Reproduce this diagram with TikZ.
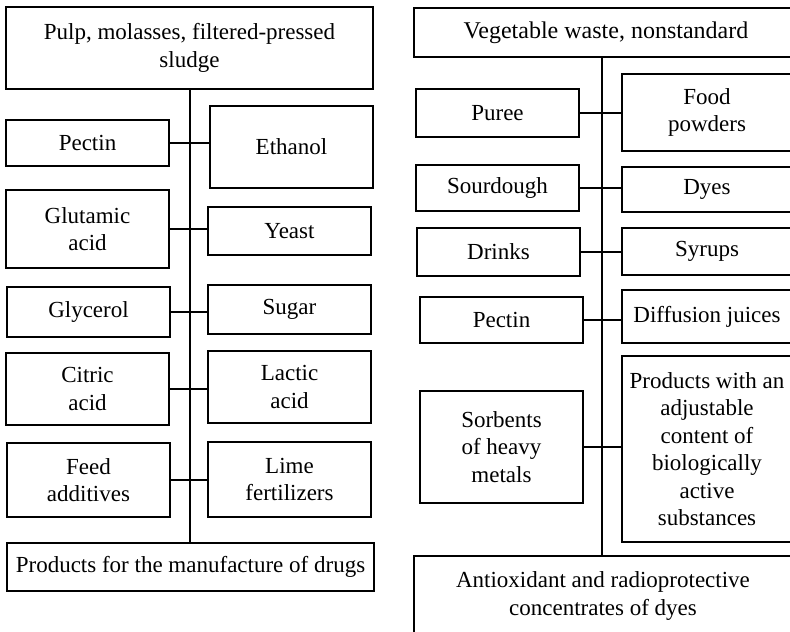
\documentclass[tikz,border=0pt]{standalone}
\usepackage{fontspec}
\setmainfont{Liberation Serif}
\begin{document}
\begin{tikzpicture}[x=1pt,y=-1pt,
  box/.style={draw, line width=1.7pt, inner sep=0pt, align=center,
    font=\fontsize{23}{27.5}\selectfont},
  link/.style={line width=1.7pt}]
\useasboundingbox (0,0) rectangle (790,632);
\clip (0,0) rectangle (790,632);
% ---------- left panel ----------
\node[box, minimum width=367, minimum height=82] (top) at (189.5,48) {Pulp, molasses, filtered-pressed\\sludge};
\node[box, minimum width=163, minimum height=46] (pectin) at (87.5,143) {Pectin};
\node[box, minimum width=163, minimum height=82] (ethanol) at (291.5,147) {Ethanol};
\node[box, minimum width=163, minimum height=78] (glutamic) at (87.5,229) {Glutamic\\acid};
\node[box, minimum width=163, minimum height=48] (yeast) at (289.5,231) {Yeast};
\node[box, minimum width=163, minimum height=50] (glycerol) at (88.5,312) {Glycerol};
\node[box, minimum width=163, minimum height=49] (sugar) at (289.5,309.5) {Sugar};
\node[box, minimum width=163, minimum height=72] (citric) at (87.5,389) {Citric\\acid};
\node[box, minimum width=163, minimum height=72] (lactic) at (289.5,387) {Lactic\\acid};
\node[box, minimum width=163, minimum height=74] (feed) at (88.5,480) {Feed\\additives};
\node[box, minimum width=163, minimum height=75] (lime) at (289.5,479.5) {Lime\\fertilizers};
\node[box, minimum width=367, minimum height=48] (drugs) at (190.5,567) {Products for the manufacture of drugs};
\coordinate (ls) at (190,0);
\draw[link] (top.south -| ls) -- (drugs.north -| ls);
\draw[link] (pectin.east) -- (pectin.east -| ethanol.west);
\draw[link] (glutamic.east) -- (glutamic.east -| yeast.west);
\draw[link] (glycerol.east) -- (glycerol.east -| sugar.west);
\draw[link] (citric.east) -- (citric.east -| lactic.west);
\draw[link] (feed.east) -- (feed.east -| lime.west);
% ---------- right panel ----------
\node[box, minimum width=384, minimum height=49, font=\fontsize{24}{28}\selectfont] (vtop) at (606,32.5) {Vegetable waste, nonstandard};
\node[box, minimum width=163, minimum height=48] (puree) at (497.5,113) {Puree};
\node[box, minimum width=170, minimum height=77] (food) at (707,112.5) {Food\\powders};
\node[box, minimum width=163, minimum height=46] (sour) at (497.5,188) {Sourdough};
\node[box, minimum width=170, minimum height=45] (dyes) at (707,189.5) {Dyes};
\node[box, minimum width=163, minimum height=48] (drinks) at (498.5,252) {Drinks};
\node[box, minimum width=170, minimum height=47] (syrups) at (707,251.5) {Syrups};
\node[box, minimum width=163, minimum height=46] (pectinb) at (501.5,320) {Pectin};
\node[box, minimum width=170, minimum height=53] (diff) at (707,316.5) {Diffusion juices};
\node[box, minimum width=163, minimum height=112] (sorb) at (501.5,447) {Sorbents\\of heavy\\metals};
\node[box, minimum width=170, minimum height=186] (prod) at (707,449) {Products with an\\adjustable\\content of\\biologically\\active\\substances};
\node[box, minimum width=378, minimum height=80] (anti) at (603,596) {Antioxidant and radioprotective\\concentrates of dyes};
\coordinate (rs) at (602,0);
\draw[link] (vtop.south -| rs) -- (anti.north -| rs);
\draw[link] (puree.east) -- (puree.east -| food.west);
\draw[link] (sour.east) -- (sour.east -| dyes.west);
\draw[link] (drinks.east) -- (drinks.east -| syrups.west);
\draw[link] (pectinb.east) -- (pectinb.east -| diff.west);
\draw[link] (sorb.east) -- (sorb.east -| prod.west);
\end{tikzpicture}
\end{document}
